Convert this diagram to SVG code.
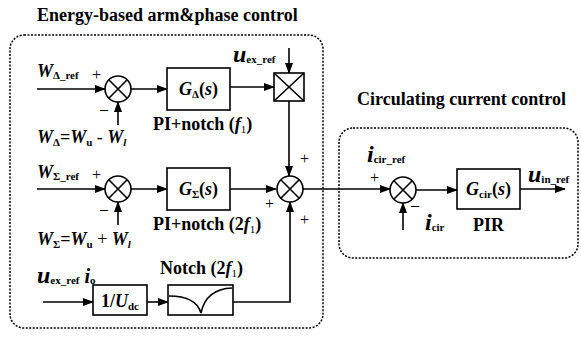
<svg xmlns="http://www.w3.org/2000/svg" width="581" height="338" viewBox="0 0 581 338" font-family="'Liberation Serif', 'DejaVu Serif', serif">
<defs>
<marker id="ah" markerWidth="11" markerHeight="8" refX="10" refY="4" orient="auto" markerUnits="userSpaceOnUse">
<path d="M0,0 L11,4 L0,8 Z" fill="#000"/>
</marker>
</defs>
<style>
text,tspan{font-family:'Liberation Serif','DejaVu Serif',serif}
text{font-weight:bold;fill:#000}
.t{font-size:18px}
.it{font-style:italic}
.sub{font-size:11px}
.pm{font-size:16px;font-weight:normal}
.blk{fill:#fff;stroke:#000;stroke-width:1.6}
.ln{fill:none;stroke:#000;stroke-width:1.6}
.arr{fill:none;stroke:#000;stroke-width:1.6;marker-end:url(#ah)}
.dash{fill:none;stroke:#000;stroke-width:1.5;stroke-dasharray:2,1.5}
</style>
<g id="frames">
<rect class="dash" x="10" y="35" width="313" height="293" rx="14"/>
<rect class="dash" x="339" y="128" width="239" height="130" rx="14"/>
<text class="t" x="37" y="21">Energy-based arm&amp;phase control</text>
<text class="t" x="357" y="105">Circulating current control</text>
</g>
<g id="connectors">
<path class="arr" d="M37,89 H105"/>
<path class="arr" d="M118,125 V102"/>
<path class="arr" d="M131,89 H167"/>
<path class="arr" d="M230,87 H274"/>
<path class="arr" d="M289,48 V73"/>
<path class="arr" d="M289,101 V176"/>
<path class="arr" d="M37,189 H105"/>
<path class="arr" d="M118,225 V202"/>
<path class="arr" d="M131,189 H167"/>
<path class="arr" d="M230,189 H276"/>
<path class="arr" d="M43,302 H93"/>
<path class="arr" d="M147,302 H168"/>
<path class="arr" d="M233,302 H290 V202"/>
<path class="arr" d="M303,189 H390"/>
<path class="arr" d="M403,230 V203"/>
<path class="arr" d="M416,190 H457"/>
<path class="arr" d="M520,189 H565"/>
</g>
<g id="sum_delta">
<circle class="blk" cx="118" cy="89" r="13"/>
<path class="ln" d="M108.8,79.8 L127.2,98.2 M127.2,79.8 L108.8,98.2"/>
<text class="pm" x="92" y="80">+</text>
<text class="pm" x="100" y="114">–</text>
</g>
<g id="label_wdref">
<text x="37" y="77"><tspan class="t it">W</tspan><tspan class="sub" dy="2">Δ_ref</tspan></text>
</g>
<g id="label_wd_eq">
<text x="37" y="143"><tspan class="t it">W</tspan><tspan class="sub" dy="3">Δ</tspan><tspan class="t" dy="-3">=</tspan><tspan class="t it">W</tspan><tspan class="sub" dy="3">u</tspan><tspan class="t" dy="-3" font-weight="normal"> - </tspan><tspan class="t it">W</tspan><tspan class="sub it" dy="3">l</tspan></text>
</g>
<g id="g_delta">
<rect class="blk" x="167" y="68" width="63" height="42"/>
<text x="198.5" y="95" text-anchor="middle"><tspan class="t it">G</tspan><tspan class="sub" dy="3">Δ</tspan><tspan class="t" dy="-3">(</tspan><tspan class="t it">s</tspan><tspan class="t">)</tspan></text>
<text x="153" y="130"><tspan class="t">PI+notch (</tspan><tspan class="t it">f</tspan><tspan class="sub" dy="3" font-weight="normal">1</tspan><tspan class="t" dy="-3">)</tspan></text>
</g>
<g id="mult">
<rect class="blk" x="274" y="73" width="30" height="28"/>
<path class="ln" d="M274,73 L304,101 M304,73 L274,101"/>
<text x="233" y="62"><tspan class="it" font-size="24">u</tspan><tspan class="sub" dy="1">ex_ref</tspan></text>
</g>
<g id="sum_sigma">
<circle class="blk" cx="118" cy="189" r="13"/>
<path class="ln" d="M108.8,179.8 L127.2,198.2 M127.2,179.8 L108.8,198.2"/>
<text class="pm" x="92" y="180">+</text>
<text class="pm" x="100" y="214">–</text>
</g>
<g id="label_wsref">
<text x="37" y="178"><tspan class="t it">W</tspan><tspan class="sub" dy="2">Σ_ref</tspan></text>
</g>
<g id="label_ws_eq">
<text x="37" y="245"><tspan class="t it">W</tspan><tspan class="sub" dy="3">Σ</tspan><tspan class="t" dy="-3">=</tspan><tspan class="t it">W</tspan><tspan class="sub" dy="3">u</tspan><tspan class="t" dy="-3" font-weight="normal"> + </tspan><tspan class="t it">W</tspan><tspan class="sub it" dy="3">l</tspan></text>
</g>
<g id="g_sigma">
<rect class="blk" x="167" y="168" width="63" height="42"/>
<text x="198.5" y="195" text-anchor="middle"><tspan class="t it">G</tspan><tspan class="sub" dy="3">Σ</tspan><tspan class="t" dy="-3">(</tspan><tspan class="t it">s</tspan><tspan class="t">)</tspan></text>
<text x="153" y="230"><tspan class="t">PI+notch (2</tspan><tspan class="t it">f</tspan><tspan class="sub" dy="3" font-weight="normal">1</tspan><tspan class="t" dy="-3">)</tspan></text>
</g>
<g id="sum_main">
<circle class="blk" cx="290" cy="189" r="13"/>
<path class="ln" d="M280.8,179.8 L299.2,198.2 M299.2,179.8 L280.8,198.2"/>
<text class="pm" x="300" y="164">+</text>
<text class="pm" x="265" y="209">+</text>
<text class="pm" x="300" y="225">+</text>
</g>
<g id="label_uexio">
<text x="37" y="283"><tspan class="it" font-size="24">u</tspan><tspan class="sub" dy="1">ex_ref</tspan><tspan class="it" font-size="20" dy="-1"> i</tspan><tspan class="sub" dy="1">o</tspan></text>
</g>
<g id="inv_udc">
<rect class="blk" x="93" y="285" width="54" height="30"/>
<text x="120" y="307" text-anchor="middle"><tspan class="t">1/</tspan><tspan class="t it">U</tspan><tspan class="sub" dy="3">dc</tspan></text>
</g>
<g id="notch">
<rect class="blk" x="168" y="285" width="65" height="30"/>
<path class="ln" d="M169,296 Q196,296 201,313 Q206,289 232,288"/>
<text x="160" y="274"><tspan class="t">Notch (2</tspan><tspan class="t it">f</tspan><tspan class="sub" dy="3" font-weight="normal">1</tspan><tspan class="t" dy="-3">)</tspan></text>
</g>
<g id="sum_cir">
<circle class="blk" cx="403" cy="190" r="13"/>
<path class="ln" d="M393.8,180.8 L412.2,199.2 M412.2,180.8 L393.8,199.2"/>
<text class="pm" x="370" y="183">+</text>
<text class="pm" x="411" y="210">–</text>
<text x="367" y="162"><tspan class="it" font-size="24">i</tspan><tspan class="sub" dy="1">cir_ref</tspan></text>
<text x="425" y="230"><tspan class="it" font-size="24">i</tspan><tspan class="sub" dy="1">cir</tspan></text>
</g>
<g id="g_cir">
<rect class="blk" x="457" y="169" width="63" height="40"/>
<text x="488.5" y="195" text-anchor="middle"><tspan class="t it">G</tspan><tspan class="sub" dy="3">cir</tspan><tspan class="t" dy="-3">(</tspan><tspan class="t it">s</tspan><tspan class="t">)</tspan></text>
<text class="t" x="488.5" y="231" text-anchor="middle">PIR</text>
<text x="528" y="182"><tspan class="it" font-size="24">u</tspan><tspan class="sub" dy="1">in_ref</tspan></text>
</g>
</svg>
